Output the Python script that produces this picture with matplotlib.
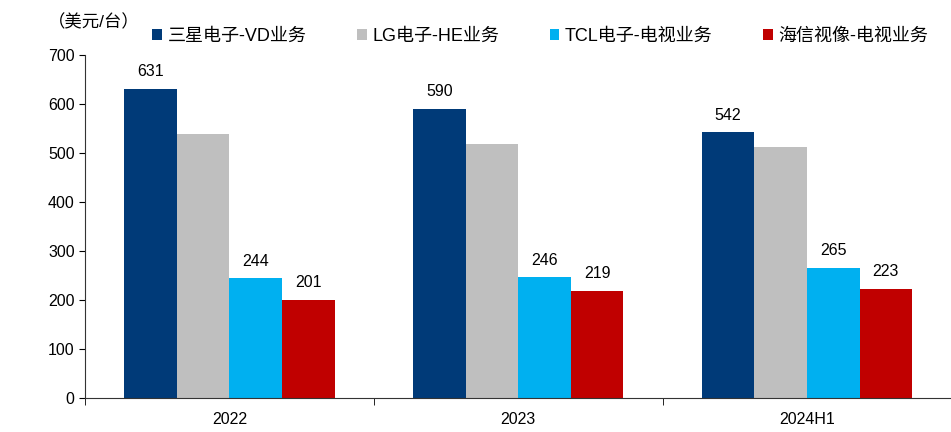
import matplotlib
matplotlib.use("Agg")
import matplotlib.pyplot as plt
import numpy as np

plt.rcParams['font.family'] = ['Liberation Sans', 'Noto Sans CJK SC', 'DejaVu Sans']

categories = ['2022', '2023', '2024H1']
series_names = ['三星电子-VD业务', 'LG电子-HE业务', 'TCL电子-电视业务', '海信视像-电视业务']
samsung = [631, 590, 542]
lg = [539, 518, 513]
tcl = [244, 246, 265]
hisense = [201, 219, 223]
show_labels = [True, False, True, True]
colors = ['#003A78', '#BFBFBF', '#00B0F0', '#C00000']

fig = plt.figure(figsize=(9.51, 4.32), dpi=100)
ax = fig.add_axes([0.0894, 0.0787, 0.911, 0.794])

x = np.arange(len(categories))
width = 0.182
all_series = [samsung, lg, tcl, hisense]
for i, (vals, name, col) in enumerate(zip(all_series, series_names, colors)):
    pos = x + (i - 1.5) * width
    bars = ax.bar(pos, vals, width, color=col, label=name)
    if show_labels[i]:
        for b, v in zip(bars, vals):
            ax.text(b.get_x() + b.get_width() / 2, v + 20, str(v),
                    ha='center', va='bottom', fontsize=11.5)

ax.set_xlim(-0.5, len(categories) - 0.5)
ax.set_ylim(0, 700)
ax.set_yticks(range(0, 701, 100))
ax.set_xticks(x)
ax.set_xticklabels(categories)
ax.set_xticks(np.arange(-0.5, len(categories), 1.0), minor=True)
ax.tick_params(axis='x', which='major', length=0, pad=10, labelsize=11.5)
ax.tick_params(axis='x', which='minor', length=5, direction='out')
ax.tick_params(axis='y', length=4, direction='out', labelsize=11.5)

for s in ['top', 'right']:
    ax.spines[s].set_visible(False)
ax.spines['left'].set_color('#333333')
ax.spines['bottom'].set_color('#333333')

fig.text(0.05, 1 - 22 / 432, '（美元/台）', fontsize=12.5, va='center', ha='left')

leg = fig.legend(loc='center left', bbox_to_anchor=(152 / 951, 1 - 36 / 432), ncol=4,
                 frameon=False, fontsize=13, handlelength=0.55, handleheight=0.55,
                 handletextpad=0.3, columnspacing=2.8, borderpad=0, borderaxespad=0)

fig.savefig('out.png', dpi=100)
